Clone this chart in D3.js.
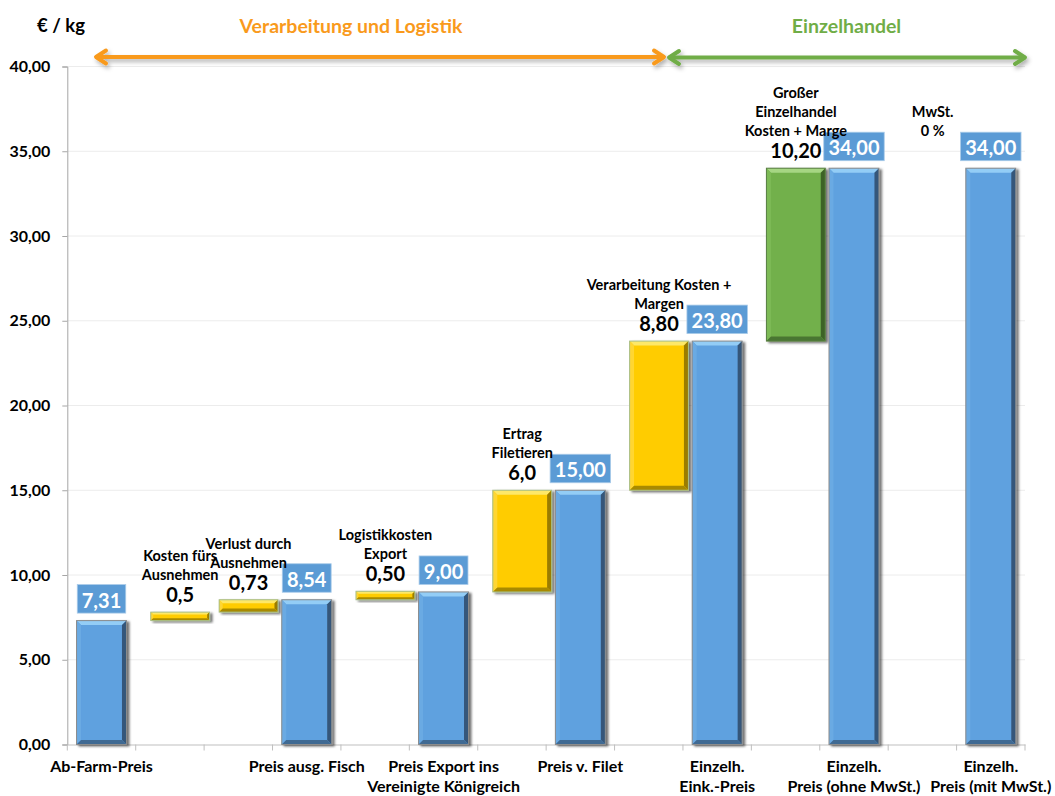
<!DOCTYPE html>
<html lang="de">
<head>
<meta charset="utf-8">
<title>Preisbildung Fisch – Wertschöpfungskette</title>
<script src="https://cdn.jsdelivr.net/npm/d3@7/dist/d3.min.js"></script>
<style>
  html, body { margin: 0; padding: 0; background: #ffffff; }
  svg { display: block; font-family: Lato, "Open Sans", "Liberation Sans", sans-serif; font-weight: 700; }
</style>
</head>
<body>
<svg id="chart" width="1055" height="796"></svg>
<script>
// ---- Data -------------------------------------------------------------
// Each step of the price chain: "total" steps are price levels, "delta" steps
// are cost / margin additions stacked on top of the running price.
const stepKinds  = ["total", "delta", "delta", "total", "delta", "total", "delta",
                    "total", "delta", "total", "delta", "total", "delta", "total"];
const stepValues = [7.31, 0.5, 0.73, 8.54, 0.50, 9.00, 6.0,
                    15.00, 8.80, 23.80, 10.20, 34.00, 0, 34.00];
const valueLabels = ["7,31", "0,5", "0,73", "8,54", "0,50", "9,00", "6,0",
                     "15,00", "8,80", "23,80", "10,20", "34,00", "", "34,00"];
// Stage of the chain each step belongs to (drives the delta colour)
const stepStages = ["farm", "proc", "proc", "proc", "proc", "proc", "proc",
                    "proc", "proc", "proc", "retail", "retail", "retail", "retail"];
// Category text under the axis (price levels)
const axisLabels = [
  ["Ab-Farm-Preis"], [], [], ["Preis ausg. Fisch"], [],
  ["Preis Export ins", "Vereinigte Königreich"], [], ["Preis v. Filet"], [],
  ["Einzelh.", "Eink.-Preis"], [], ["Einzelh.", "Preis (ohne MwSt.)"], [],
  ["Einzelh.", "Preis (mit MwSt.)"]
];
// Titles written above the cost / margin steps
const deltaTitles = [
  [], ["Kosten fürs", "Ausnehmen"], ["Verlust durch", "Ausnehmen"], [],
  ["Logistikkosten", "Export"], [], ["Ertrag", "Filetieren"], [],
  ["Verarbeitung Kosten +", "Margen"], [], ["Großer", "Einzelhandel", "Kosten + Marge"],
  [], ["MwSt.", "0 %"], []
];
const yTicks = [0, 5, 10, 15, 20, 25, 30, 35, 40];
const unitLabel = "€ / kg";
const sectionLabels = ["Verarbeitung und Logistik", "Einzelhandel"];

// ---- Layout -----------------------------------------------------------
const svg = d3.select("#chart");
const plot = { left: 67.3, right: 1025, top: 66.5, bottom: 744.5 };

const x = d3.scaleBand()
  .domain(d3.range(stepValues.length))
  .range([plot.left, plot.right])
  .padding(0);
const y = d3.scaleLinear().domain([0, 40]).range([plot.bottom, plot.top]);

const bw = x.bandwidth();
const totalWidth = bw * 0.73;
const deltaWidth = bw * 0.86;
const deltaShift = bw * 0.15;

const deLocale = d3.formatLocale({ decimal: ",", thousands: ".", grouping: [3], currency: ["", " €"] });
const fmt2 = deLocale.format(".2f");

// Running price: deltas start where the previous level ended
let running = 0;
const steps = stepValues.map((v, i) => {
  let base, top;
  if (stepKinds[i] === "total") { base = 0; top = v; }
  else { base = running; top = running + v; }
  running = top;
  const cx = x(i) + bw / 2 + (stepKinds[i] === "delta" ? deltaShift : 0);
  const w = stepKinds[i] === "total" ? totalWidth : deltaWidth;
  return { i, kind: stepKinds[i], value: v, base, top, cx, w, stage: stepStages[i] };
});

// ---- Defs -------------------------------------------------------------
const defs = svg.append("defs");
const shadow = defs.append("filter").attr("id", "barShadow")
  .attr("x", "-20%").attr("y", "-30%").attr("width", "140%").attr("height", "160%");
shadow.append("feDropShadow").attr("dx", 2.5).attr("dy", 1.5).attr("stdDeviation", 1.3)
  .attr("flood-color", "#000").attr("flood-opacity", 0.55);
const arrowShadow = defs.append("filter").attr("id", "arrowShadow")
  .attr("x", "-5%").attr("y", "-200%").attr("width", "110%").attr("height", "500%");
arrowShadow.append("feDropShadow").attr("dx", 2).attr("dy", 3).attr("stdDeviation", 2)
  .attr("flood-color", "#000").attr("flood-opacity", 0.3);

const palettes = {
  total:  { body: "#5fa1df", top: "#93cdf6", left: "#6aaae3", right: "#34577a", bottom: "#3f6a93", edge: "#8c8c8c" },
  proc:   { body: "#ffcc00", top: "#fde868", left: "#ffd633", right: "#9a7c00", bottom: "#a88a00", edge: "#a7bf8c" },
  retail: { body: "#72b04c", top: "#a6d683", left: "#7dba57", right: "#3e6428", bottom: "#4a7631", edge: "#5a7f45" }
};

// ---- Gridlines & axes -------------------------------------------------
svg.append("g").selectAll("line").data(yTicks.slice(1)).join("line")
  .attr("x1", plot.left).attr("x2", plot.right)
  .attr("y1", d => y(d)).attr("y2", d => y(d))
  .attr("stroke", "#ececec").attr("stroke-width", 1);

const yAxis = svg.append("g")
  .attr("transform", `translate(${plot.left},0)`)
  .call(d3.axisLeft(y).tickValues(yTicks).tickFormat(fmt2).tickSize(5).tickPadding(12));
yAxis.select(".domain").attr("stroke", "#a6a6a6");
yAxis.selectAll(".tick line").attr("stroke", "#a6a6a6");
yAxis.selectAll(".tick text")
  .attr("fill", "#000").style("font-size", "16px").style("font-weight", 700)
  .style("font-family", "Lato, 'Open Sans', sans-serif");

const xAxis = svg.append("g")
  .attr("transform", `translate(0,${plot.bottom})`)
  .call(d3.axisBottom(x).tickSize(0).tickFormat(""));
xAxis.select(".domain").attr("stroke", "#bfbfbf");
xAxis.selectAll(".tick").remove();
const boundaries = d3.range(stepValues.length).map(i => x(i)).concat([plot.right]);
svg.append("g").selectAll("line").data(boundaries).join("line")
  .attr("x1", d => d).attr("x2", d => d)
  .attr("y1", plot.bottom).attr("y2", plot.bottom + 6)
  .attr("stroke", "#bfbfbf");

// Category labels under the axis
const catG = svg.append("g");
axisLabels.forEach((lines, i) => {
  if (!lines.length) return;
  const t = catG.append("text")
    .attr("x", x(i) + bw / 2).attr("y", plot.bottom + 27)
    .attr("text-anchor", "middle").attr("fill", "#000").style("font-size", "16px");
  lines.forEach((ln, k) => t.append("tspan").attr("x", x(i) + bw / 2).attr("dy", k === 0 ? 0 : 20).text(ln));
});

// ---- Bars with bevel --------------------------------------------------
function bevelBar(g, x0, y0, w, h, p) {
  const b = Math.min(4.5, h / 3.5, w / 4);
  const grp = g.append("g").attr("filter", "url(#barShadow)");
  grp.append("rect").attr("x", x0).attr("y", y0).attr("width", w).attr("height", h).attr("fill", p.body);
  const poly = (pts, fill) => grp.append("polygon").attr("points", pts.map(q => q.join(",")).join(" ")).attr("fill", fill);
  poly([[x0, y0], [x0 + w, y0], [x0 + w - b, y0 + b], [x0 + b, y0 + b]], p.top);
  poly([[x0, y0], [x0 + b, y0 + b], [x0 + b, y0 + h - b], [x0, y0 + h]], p.left);
  poly([[x0 + w, y0], [x0 + w - b, y0 + b], [x0 + w - b, y0 + h - b], [x0 + w, y0 + h]], p.right);
  poly([[x0, y0 + h], [x0 + b, y0 + h - b], [x0 + w - b, y0 + h - b], [x0 + w, y0 + h]], p.bottom);
  grp.append("rect").attr("x", x0).attr("y", y0).attr("width", w).attr("height", h)
    .attr("fill", "none").attr("stroke", p.edge).attr("stroke-width", 1);
}

const barsG = svg.append("g");
steps.forEach(s => {
  const h = y(s.base) - y(s.top);
  if (h <= 0) return;
  const p = s.kind === "total" ? palettes.total : palettes[s.stage];
  bevelBar(barsG, s.cx - s.w / 2, y(s.top), s.w, h, p);
});

// ---- Value labels -----------------------------------------------------
const labG = svg.append("g");
steps.forEach(s => {
  const yTop = y(s.top);
  if (s.kind === "total") {
    const t = labG.append("text")
      .attr("x", s.cx).attr("y", yTop - 13)
      .attr("text-anchor", "middle").attr("fill", "#fff").style("font-size", "20px")
      .text(valueLabels[s.i]);
    const bb = t.node().getBBox();
    labG.insert("rect", "text")
      .attr("x", s.cx - bb.width / 2 - 4.5).attr("y", yTop - 36)
      .attr("width", bb.width + 9).attr("height", 28.5)
      .attr("fill", "#5b9bd5").attr("stroke", "#a9cbe9").attr("stroke-width", 0.8);
  } else {
    const vb = yTop - 10;
    labG.append("text")
      .attr("x", s.cx).attr("y", vb)
      .attr("text-anchor", "middle").attr("fill", "#000").style("font-size", "20px")
      .text(valueLabels[s.i]);
    const lines = deltaTitles[s.i];
    const last = vb - 22;
    lines.forEach((ln, k) => {
      labG.append("text")
        .attr("x", s.cx).attr("y", last - (lines.length - 1 - k) * 19)
        .attr("text-anchor", "middle").attr("fill", "#000").style("font-size", "14.5px")
        .text(ln);
    });
  }
});

// ---- Header: unit and section arrows ---------------------------------
svg.append("text").attr("x", 37).attr("y", 32).attr("fill", "#000")
  .style("font-size", "18.5px").text(unitLabel);

function doubleArrow(x1, x2, yy, color) {
  const g = svg.append("g").attr("filter", "url(#arrowShadow)")
    .attr("stroke", color).attr("stroke-width", 4).attr("fill", "none")
    .attr("stroke-linecap", "round").attr("stroke-linejoin", "round");
  g.append("line").attr("x1", x1 + 2).attr("x2", x2 - 2).attr("y1", yy).attr("y2", yy);
  g.append("polyline").attr("points", `${x1 + 11},${yy - 6.5} ${x1 + 1},${yy} ${x1 + 11},${yy + 6.5}`);
  g.append("polyline").attr("points", `${x2 - 11},${yy - 6.5} ${x2 - 1},${yy} ${x2 - 11},${yy + 6.5}`);
}
const orange = "#f99a1c", green = "#70ad47";
doubleArrow(95, 665, 57, orange);
doubleArrow(668, 1026, 57.5, green);

svg.append("text").attr("x", 351).attr("y", 33).attr("text-anchor", "middle")
  .attr("fill", orange).style("font-size", "19.5px").text(sectionLabels[0]);
svg.append("text").attr("x", 846.5).attr("y", 33).attr("text-anchor", "middle")
  .attr("fill", green).style("font-size", "19.5px").text(sectionLabels[1]);
</script>
</body>
</html>
